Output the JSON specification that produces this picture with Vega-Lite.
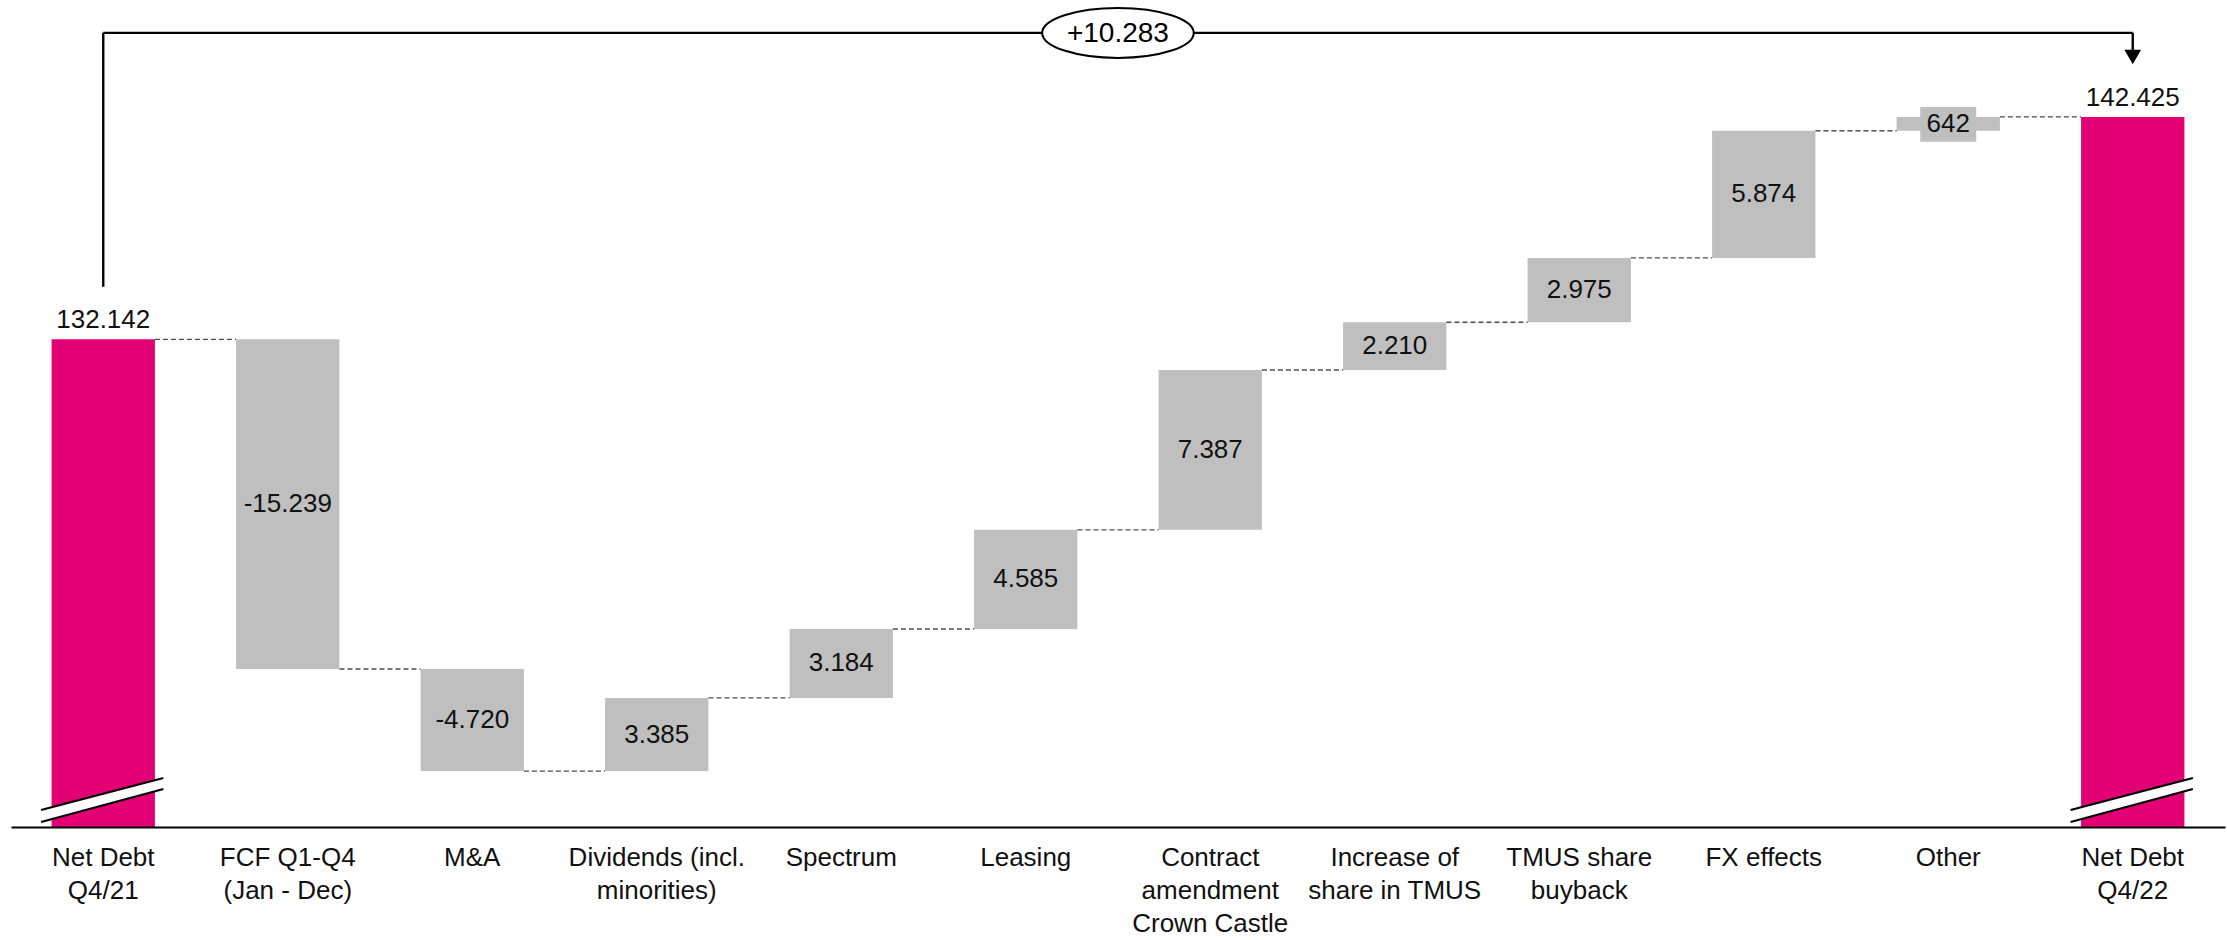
{
  "$schema": "https://vega.github.io/schema/vega-lite/v6.json",
  "autosize": {"type": "none"},
  "padding": {"left": 11, "top": 0, "right": 2, "bottom": 113},
  "width": 2214,
  "height": 827,
  "background": "white",
  "config": {
    "view": {"stroke": null},
    "font": "Liberation Sans, sans-serif",
    "text": {"font": "Liberation Sans, sans-serif"}
  },
  "datasets": {
    "steps": [
      {"cat": "Net Debt|Q4/21", "kind": "total", "start": 0, "end": 132.142, "label": "132.142"},
      {"cat": "FCF Q1-Q4|(Jan - Dec)", "kind": "delta", "start": 132.142, "end": 116.903, "label": "-15.239"},
      {"cat": "M&A", "kind": "delta", "start": 116.903, "end": 112.183, "label": "-4.720"},
      {"cat": "Dividends (incl.|minorities)", "kind": "delta", "start": 112.183, "end": 115.568, "label": "3.385"},
      {"cat": "Spectrum", "kind": "delta", "start": 115.568, "end": 118.752, "label": "3.184"},
      {"cat": "Leasing", "kind": "delta", "start": 118.752, "end": 123.337, "label": "4.585"},
      {"cat": "Contract|amendment|Crown Castle", "kind": "delta", "start": 123.337, "end": 130.724, "label": "7.387"},
      {"cat": "Increase of|share in TMUS", "kind": "delta", "start": 130.724, "end": 132.934, "label": "2.210"},
      {"cat": "TMUS share|buyback", "kind": "delta", "start": 132.934, "end": 135.909, "label": "2.975"},
      {"cat": "FX effects", "kind": "delta", "start": 135.909, "end": 141.783, "label": "5.874"},
      {"cat": "Other", "kind": "delta", "start": 141.783, "end": 142.425, "label": "642"},
      {"cat": "Net Debt|Q4/22", "kind": "total", "start": 0, "end": 142.425, "label": "142.425"}
    ],
    "links": [
      {"from": "Net Debt|Q4/21", "to": "FCF Q1-Q4|(Jan - Dec)", "level": 132.142},
      {"from": "FCF Q1-Q4|(Jan - Dec)", "to": "M&A", "level": 116.903},
      {"from": "M&A", "to": "Dividends (incl.|minorities)", "level": 112.183},
      {"from": "Dividends (incl.|minorities)", "to": "Spectrum", "level": 115.568},
      {"from": "Spectrum", "to": "Leasing", "level": 118.752},
      {"from": "Leasing", "to": "Contract|amendment|Crown Castle", "level": 123.337},
      {"from": "Contract|amendment|Crown Castle", "to": "Increase of|share in TMUS", "level": 130.724},
      {"from": "Increase of|share in TMUS", "to": "TMUS share|buyback", "level": 132.934},
      {"from": "TMUS share|buyback", "to": "FX effects", "level": 135.909},
      {"from": "FX effects", "to": "Other", "level": 141.783},
      {"from": "Other", "to": "Net Debt|Q4/22", "level": 142.425}
    ],
    "bridge": [
      {"from": "Net Debt|Q4/21", "to": "Net Debt|Q4/22", "mid": "Leasing", "label": "+10.283"}
    ]
  },
  "data": {"name": "steps"},
  "layer": [
    {
      "mark": {"type": "bar"},
      "encoding": {
        "x": {
          "field": "cat", "type": "nominal", "sort": null,
          "scale": {
            "domain": ["Net Debt|Q4/21", "FCF Q1-Q4|(Jan - Dec)", "M&A", "Dividends (incl.|minorities)", "Spectrum", "Leasing", "Contract|amendment|Crown Castle", "Increase of|share in TMUS", "TMUS share|buyback", "FX effects", "Other", "Net Debt|Q4/22"],
            "paddingInner": 0.44, "paddingOuter": 0.22
          },
          "axis": {
            "title": null, "labelAngle": 0, "ticks": false, "tickSize": 0,
            "domainColor": "#000000", "domainWidth": 2,
            "labelFont": "Liberation Sans, sans-serif",
            "labelFontSize": 26, "labelColor": "#111111", "labelLineHeight": 33,
            "labelPadding": 17, "labelExpr": "split(datum.label, '|')",
            "labelOverlap": false, "labelBound": false, "labelFlush": false, "labelLimit": 0,
            "zindex": 1
          }
        },
        "y": {
          "field": "end", "type": "quantitative",
          "scale": {"domain": [109.6, 147.83], "nice": false, "zero": false, "clamp": true},
          "axis": null
        },
        "y2": {"field": "start"},
        "color": {
          "field": "kind", "type": "nominal",
          "scale": {"domain": ["total", "delta"], "range": ["#E20074", "#BFBFBF"]},
          "legend": null
        }
      }
    },
    {
      "transform": [{"filter": "datum.cat == 'Other'"}],
      "mark": {"type": "bar", "width": 56, "color": "#BFBFBF", "yOffset": -10, "y2Offset": 11},
      "encoding": {
        "x": {"field": "cat", "type": "nominal"},
        "y": {"field": "end", "type": "quantitative", "axis": null},
        "y2": {"field": "start"}
      }
    },
    {
      "data": {"name": "links"},
      "mark": {"type": "rule", "color": "#4d4d4d", "strokeWidth": 1.4, "strokeDash": [5, 3]},
      "encoding": {
        "x": {"field": "from", "type": "nominal", "bandPosition": 1},
        "x2": {"field": "to", "bandPosition": 0},
        "y": {"field": "level", "type": "quantitative", "axis": null}
      }
    },
    {
      "transform": [{"filter": "datum.kind == 'delta'"}, {"fold": ["start", "end"], "as": ["k", "v"]}],
      "mark": {"type": "text", "baseline": "middle", "align": "center", "fontSize": 26, "color": "#111111"},
      "encoding": {
        "x": {"field": "cat", "type": "nominal"},
        "y": {"aggregate": "mean", "field": "v", "type": "quantitative", "axis": null},
        "text": {"field": "label"}
      }
    },
    {
      "transform": [{"filter": "datum.kind == 'total'"}],
      "mark": {"type": "text", "baseline": "alphabetic", "align": "center", "fontSize": 26, "color": "#111111", "dy": -11},
      "encoding": {
        "x": {"field": "cat", "type": "nominal"},
        "y": {"field": "end", "type": "quantitative", "axis": null},
        "text": {"field": "label"}
      }
    },
    {
      "transform": [{"filter": "datum.kind == 'total'"}],
      "mark": {"type": "rule", "color": "white", "strokeWidth": 11, "xOffset": -10.5, "x2Offset": 8.5},
      "encoding": {
        "x": {"field": "cat", "type": "nominal", "bandPosition": 0},
        "x2": {"field": "cat", "bandPosition": 1},
        "y": {"datum": 110.109, "type": "quantitative", "axis": null},
        "y2": {"datum": 111.611}
      }
    },
    {
      "transform": [{"filter": "datum.kind == 'total'"}],
      "mark": {"type": "rule", "color": "black", "strokeWidth": 2.2, "xOffset": -10.5, "x2Offset": 8.5},
      "encoding": {
        "x": {"field": "cat", "type": "nominal", "bandPosition": 0},
        "x2": {"field": "cat", "bandPosition": 1},
        "y": {"datum": 110.386, "type": "quantitative", "axis": null},
        "y2": {"datum": 111.865}
      }
    },
    {
      "transform": [{"filter": "datum.kind == 'total'"}],
      "mark": {"type": "rule", "color": "black", "strokeWidth": 2.2, "xOffset": -10.5, "x2Offset": 8.5},
      "encoding": {
        "x": {"field": "cat", "type": "nominal", "bandPosition": 0},
        "x2": {"field": "cat", "bandPosition": 1},
        "y": {"datum": 109.83, "type": "quantitative", "axis": null},
        "y2": {"datum": 111.357}
      }
    },
    {
      "data": {"name": "bridge"},
      "mark": {"type": "rule", "color": "black", "strokeWidth": 2.4},
      "encoding": {
        "x": {"field": "from", "type": "nominal", "bandPosition": 0.5},
        "y": {"datum": 134.57, "type": "quantitative", "axis": null},
        "y2": {"datum": 146.31}
      }
    },
    {
      "data": {"name": "bridge"},
      "mark": {"type": "rule", "color": "black", "strokeWidth": 2.4},
      "encoding": {
        "x": {"field": "from", "type": "nominal", "bandPosition": 0.5},
        "x2": {"field": "to", "bandPosition": 0.5},
        "y": {"datum": 146.31, "type": "quantitative", "axis": null}
      }
    },
    {
      "data": {"name": "bridge"},
      "mark": {"type": "rule", "color": "black", "strokeWidth": 2.4},
      "encoding": {
        "x": {"field": "to", "type": "nominal", "bandPosition": 0.5},
        "y": {"datum": 146.31, "type": "quantitative", "axis": null},
        "y2": {"datum": 145.5}
      }
    },
    {
      "data": {"name": "bridge"},
      "mark": {"type": "point", "shape": "triangle-down", "size": 280, "filled": true, "color": "black", "opacity": 1},
      "encoding": {
        "x": {"field": "to", "type": "nominal", "bandPosition": 0.5},
        "y": {"datum": 145.2, "type": "quantitative", "axis": null}
      }
    },
    {
      "data": {"name": "bridge"},
      "mark": {"type": "point", "shape": "M -3.03 0 A 3.03 1 0 1 0 3.03 0 A 3.03 1 0 1 0 -3.03 0 Z", "size": 2500, "filled": true, "fill": "white", "stroke": "black", "strokeWidth": 2, "opacity": 1, "fillOpacity": 1, "xOffset": 92.2},
      "encoding": {
        "x": {"field": "mid", "type": "nominal", "bandPosition": 0.5},
        "y": {"datum": 146.31, "type": "quantitative", "axis": null}
      }
    },
    {
      "data": {"name": "bridge"},
      "mark": {"type": "text", "font": "Liberation Sans, sans-serif", "fontSize": 28, "color": "#000000", "baseline": "middle", "align": "center", "xOffset": 92.2, "dy": 1},
      "encoding": {
        "x": {"field": "mid", "type": "nominal", "bandPosition": 0.5},
        "y": {"datum": 146.31, "type": "quantitative", "axis": null},
        "text": {"field": "label"}
      }
    }
  ]
}
